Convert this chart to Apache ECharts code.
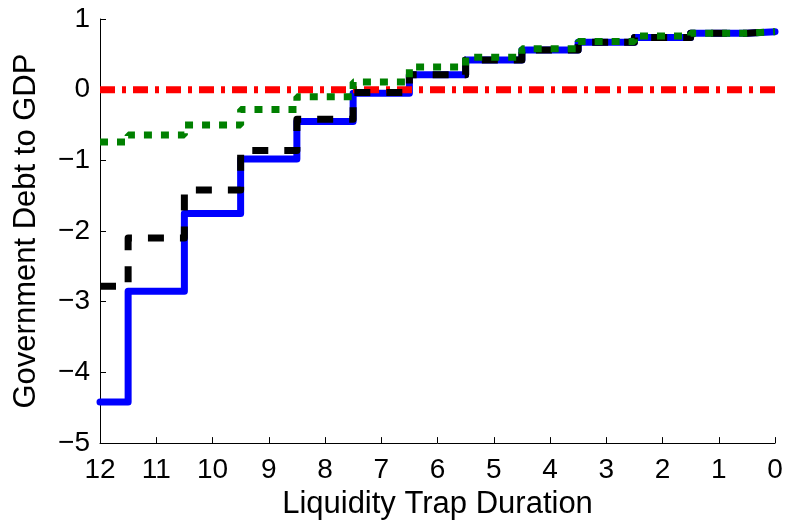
<!DOCTYPE html>
<html><head><meta charset="utf-8">
<script src="https://cdn.jsdelivr.net/npm/echarts@6/dist/echarts.min.js"></script>
<style>html,body{margin:0;padding:0;background:#fff}#c{width:786px;height:525px}</style>
</head><body><div id="c"></div>
<script>
const durations = [12, 11, 10, 9, 8, 7, 6, 5, 4, 3, 2, 1, 0];
const blueSeries  = [-4.42, -2.85, -1.75, -0.98, -0.45, -0.05, 0.21, 0.42, 0.56, 0.67, 0.74, 0.80, 0.82];
const blackSeries = [-2.78, -2.10, -1.42, -0.86, -0.42, -0.04, 0.21, 0.42, 0.56, 0.67, 0.74, 0.80, 0.82];
const greenSeries = [-0.74, -0.64, -0.50, -0.28, -0.10, 0.11, 0.32, 0.46, 0.58, 0.68, 0.76, 0.80, 0.82];
const zeroLine    = [0, 0, 0, 0, 0, 0, 0, 0, 0, 0, 0, 0, 0];

const pairs = arr => durations.map((d, i) => [d, arr[i]]);
const font = 'Liberation Sans, Arial, sans-serif';
const minus = v => String(v).replace('-', '\u2212');

const chart = echarts.init(document.getElementById('c'), null, {renderer: 'canvas'});
chart.setOption({
  animation: false,
  backgroundColor: '#fff',
  grid: {left: 100, right: 11, top: 19, bottom: 78, containLabel: false},
  xAxis: {
    type: 'value', min: 0, max: 12, interval: 1, inverse: true, position: 'bottom',
    name: 'Liquidity Trap Duration', nameLocation: 'middle', nameGap: 34,
    nameTextStyle: {fontFamily: font, fontSize: 31, color: '#000'},
    axisLine: {show: true, onZero: false, lineStyle: {color: '#000', width: 1}},
    axisTick: {show: true, inside: true, length: 6, lineStyle: {color: '#000', width: 1}},
    axisLabel: {fontFamily: font, fontSize: 28, color: '#000', margin: 13, formatter: minus},
    splitLine: {show: false}
  },
  yAxis: {
    type: 'value', min: -5, max: 1, interval: 1, position: 'left',
    name: 'Government Debt to GDP', nameLocation: 'middle', nameGap: 58,
    nameTextStyle: {fontFamily: font, fontSize: 31, color: '#000'},
    axisLine: {show: true, onZero: false, lineStyle: {color: '#000', width: 1}},
    axisTick: {show: true, inside: true, length: 6, lineStyle: {color: '#000', width: 1}},
    axisLabel: {fontFamily: font, fontSize: 28, color: '#000', margin: 10, formatter: minus},
    splitLine: {show: false}
  },
  series: [
    {type: 'line', data: pairs(blueSeries), step: 'middle', symbol: 'none',
     lineStyle: {color: '#0000ff', width: 7, cap: 'round', join: 'round'}, z: 2},
    {type: 'line', data: pairs(zeroLine), symbol: 'none',
     lineStyle: {color: '#ff0000', width: 7, type: [15, 7, 4, 7], cap: 'butt'}, z: 3},
    {type: 'line', data: pairs(blackSeries), step: 'middle', symbol: 'none',
     lineStyle: {color: '#000000', width: 7, type: [16, 16], cap: 'butt', join: 'round'}, z: 4},
    {type: 'line', data: pairs(greenSeries), step: 'middle', symbol: 'none',
     lineStyle: {color: '#008000', width: 7, type: [8, 9], cap: 'butt'}, z: 5}
  ]
});
</script></body></html>
